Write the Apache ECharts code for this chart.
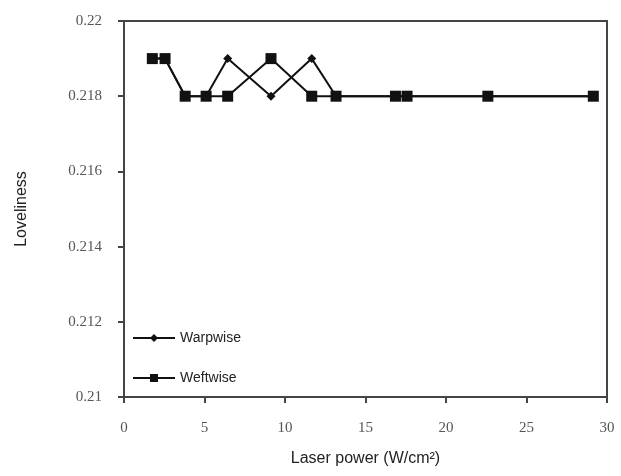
<!DOCTYPE html>
<html>
<head>
<meta charset="utf-8">
<script src="https://cdn.jsdelivr.net/npm/echarts@6/dist/echarts.min.js"></script>
<style>
  html, body { margin: 0; padding: 0; background: #fff; }
  #main { width: 621px; height: 476px; }
</style>
</head>
<body>
<div id="main"></div>
<script>
// laser power values (W/cm2)
const power = [1.76, 2.55, 3.8, 5.1, 6.44, 9.13, 11.66, 13.17, 16.86, 17.58, 22.6, 29.15]
// loveliness for each direction
const warpwise = [0.219, 0.219, 0.218, 0.218, 0.219, 0.218, 0.219, 0.218, 0.218, 0.218, 0.218, 0.218]
const weftwise = [0.219, 0.219, 0.218, 0.218, 0.218, 0.219, 0.218, 0.218, 0.218, 0.218, 0.218, 0.218]
const yTicks = [0.21, 0.212, 0.214, 0.216, 0.218, 0.22]
const xTicks = [0, 5, 10, 15, 20, 25, 30]

const pairs = (xs, ys) => xs.map((x, i) => [x, ys[i]])

const chart = echarts.init(document.getElementById('main'))
const tickFont = { fontFamily: 'Liberation Serif', fontSize: 15, color: '#555' }
const lineColor = '#111'

chart.setOption({
  animation: false,
  grid: {
    left: 124, right: 14, top: 21, bottom: 79,
    show: true, borderColor: '#444', borderWidth: 2
  },
  legend: {
    orient: 'vertical',
    left: 127, top: 326,
    itemGap: 26,
    itemWidth: 42, itemHeight: 10,
    textStyle: { fontFamily: 'Liberation Sans', fontSize: 14, color: '#222' },
    data: ['Warpwise', 'Weftwise']
  },
  xAxis: {
    type: 'value',
    min: xTicks[0], max: xTicks[xTicks.length - 1], interval: 5,
    name: 'Laser power (W/cm²)',
    nameLocation: 'middle', nameGap: 54,
    nameTextStyle: { fontFamily: 'Liberation Sans', fontSize: 16, color: '#222' },
    axisLine: { lineStyle: { color: '#444', width: 2 } },
    axisTick: { inside: false, length: 6, lineStyle: { color: '#444', width: 2 } },
    axisLabel: Object.assign({ margin: 24 }, tickFont),
    splitLine: { show: false }
  },
  yAxis: {
    type: 'value',
    min: yTicks[0], max: yTicks[yTicks.length - 1], interval: 0.002,
    name: 'Loveliness',
    nameLocation: 'middle', nameGap: 94,
    nameTextStyle: { fontFamily: 'Liberation Sans', fontSize: 16, color: '#222' },
    axisLine: { lineStyle: { color: '#444', width: 2 } },
    axisTick: { inside: false, length: 6, lineStyle: { color: '#444', width: 2 } },
    axisLabel: Object.assign({ margin: 22, formatter: v => String(+v.toFixed(3)) }, tickFont),
    splitLine: { show: false }
  },
  series: [
    {
      name: 'Warpwise', type: 'line',
      data: pairs(power, warpwise),
      symbol: 'diamond', symbolSize: 9,
      lineStyle: { color: lineColor, width: 2 },
      itemStyle: { color: lineColor }
    },
    {
      name: 'Weftwise', type: 'line',
      data: pairs(power, weftwise),
      symbol: 'rect', symbolSize: 11,
      lineStyle: { color: lineColor, width: 2 },
      itemStyle: { color: lineColor }
    }
  ]
})
</script>
</body>
</html>
